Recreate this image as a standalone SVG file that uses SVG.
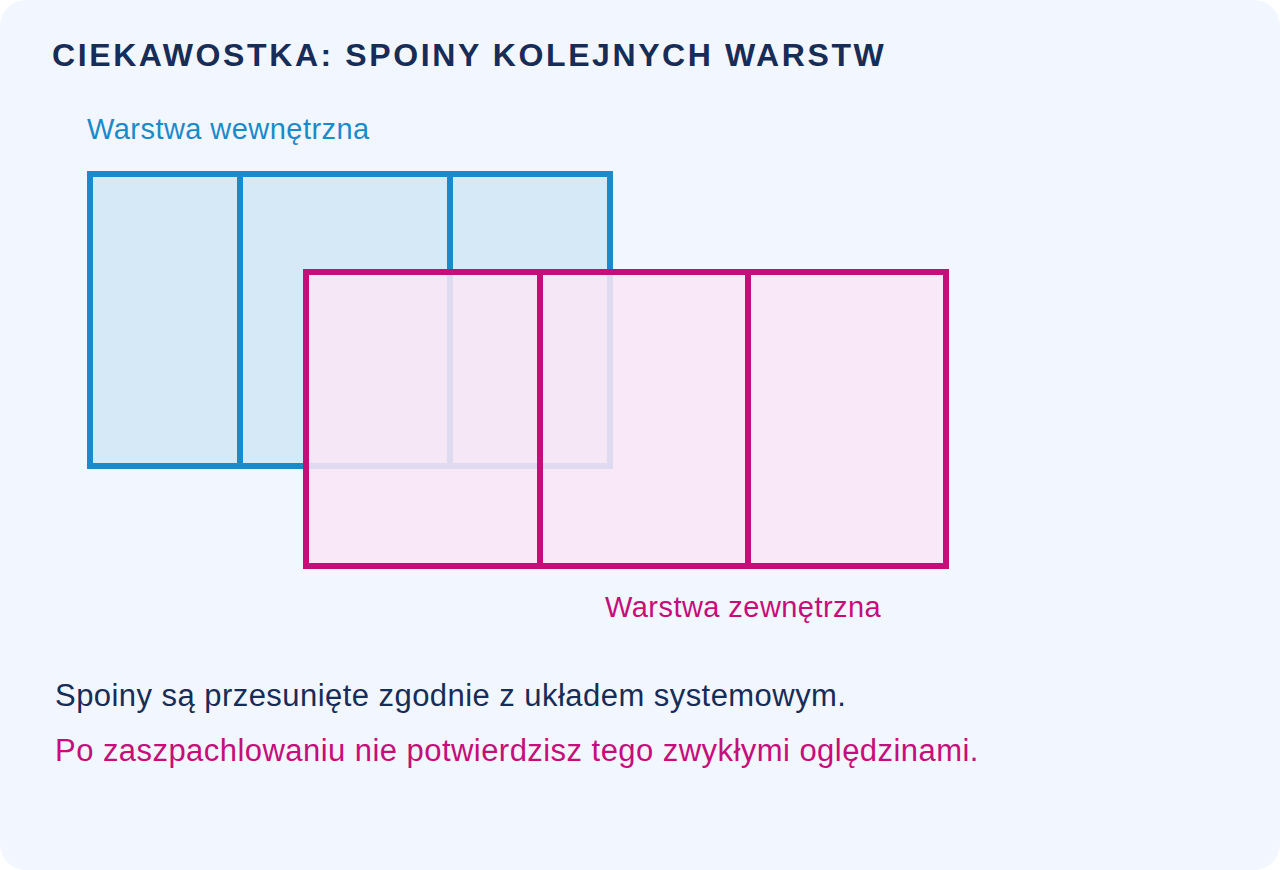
<svg xmlns="http://www.w3.org/2000/svg" width="1280" height="870" viewBox="0 0 1280 870">
<style>
text{font-family:"Liberation Sans",Arial,sans-serif}
.title{font-size:32px;font-weight:bold;fill:#172D57;letter-spacing:2.6px}
.lbl{font-size:29px;letter-spacing:0.45px}
.body{font-size:31px;letter-spacing:0.45px}
.inner rect,.inner line{stroke:#1B8ACB;stroke-width:6}
.outer rect,.outer line{stroke:#C50E7A;stroke-width:6}
</style>
<rect x="0" y="0" width="1280" height="870" fill="#FFFFFF"/>
<rect x="0" y="0" width="1280" height="870" rx="26" ry="26" fill="#F2F6FE"/>
<text class="title" x="52" y="66">CIEKAWOSTKA: SPOINY KOLEJNYCH WARSTW</text>
<g id="inner-layer" class="inner">
<rect x="90" y="174" width="520" height="292" fill="#D6E9F7"/>
<line x1="240" y1="174" x2="240" y2="466"/>
<line x1="450" y1="174" x2="450" y2="466"/>
<text class="lbl" x="87" y="139" fill="#1B8ACB">Warstwa wewnętrzna</text>
</g>
<g id="outer-layer" class="outer">
<rect x="306" y="272" width="640" height="294" fill="#F9E6F6" fill-opacity="0.88"/>
<line x1="540" y1="272" x2="540" y2="566"/>
<line x1="748" y1="272" x2="748" y2="566"/>
<text class="lbl" x="605" y="617" fill="#C50E7A">Warstwa zewnętrzna</text>
</g>
<g id="connectors"></g>
<text class="body" x="55" y="706" fill="#172D57">Spoiny są przesunięte zgodnie z układem systemowym.</text>
<text class="body" x="55" y="761" fill="#C50E7A">Po zaszpachlowaniu nie potwierdzisz tego zwykłymi oględzinami.</text>
</svg>
